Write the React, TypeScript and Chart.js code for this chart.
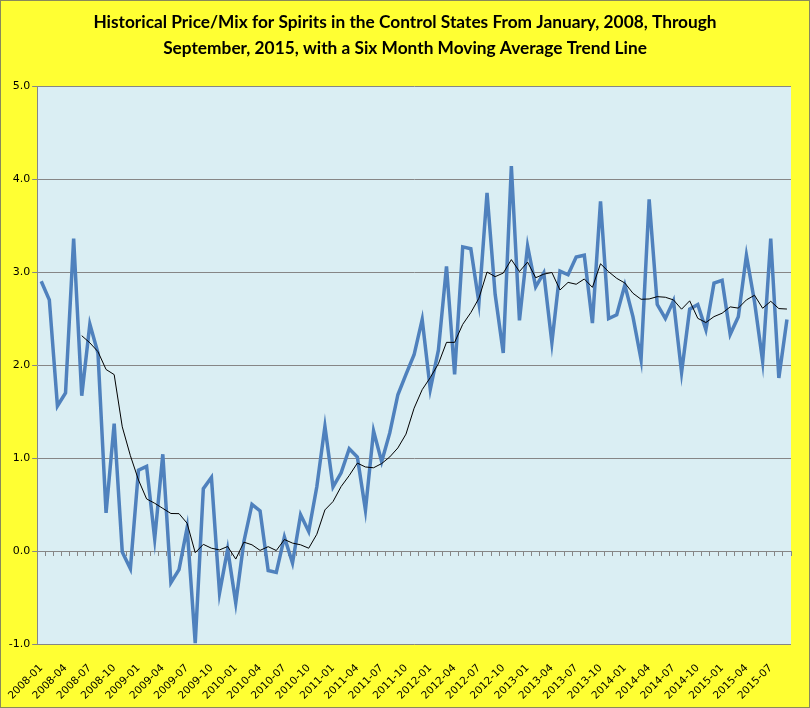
import React, { useEffect, useRef } from "react";
import { Chart, registerables } from "chart.js";

Chart.register(...registerables);

// ---- data ----
const titleLines: string[] = [
  "Historical Price/Mix for Spirits in the Control States From January, 2008, Through",
  "September, 2015, with a Six Month Moving Average Trend Line",
];

const years: number[] = [2008, 2009, 2010, 2011, 2012, 2013, 2014, 2015];
const months: string[] = ["01", "02", "03", "04", "05", "06", "07", "08", "09", "10", "11", "12"];
const categories: string[] = [];
years.forEach((y) =>
  months.forEach((m) => {
    if (!(y === 2015 && Number(m) > 9)) categories.push(`${y}-${m}`);
  })
);

// Price/mix, Jan 2008 .. Sep 2015
const priceMix: number[] = [
  2.90, 2.70, 1.56, 1.70, 3.36, 1.67, 2.44, 2.13, 0.41, 1.37, -0.01, -0.19,
  0.87, 0.91, 0.13, 1.04, -0.34, -0.20, 0.25, -0.99, 0.67, 0.79, -0.45, 0.02,
  -0.56, 0.10, 0.50, 0.43, -0.21, -0.23, 0.15, -0.13, 0.39, 0.21, 0.69, 1.34,
  0.69, 0.84, 1.10, 1.01, 0.44, 1.29, 0.96, 1.27, 1.68, 1.90, 2.11, 2.49,
  1.74, 2.16, 3.06, 1.90, 3.27, 3.25, 2.67, 3.85, 2.76, 2.13, 4.14, 2.48,
  3.28, 2.84, 2.99, 2.24, 3.01, 2.97, 3.16, 3.18, 2.45, 3.76, 2.50, 2.54,
  2.86, 2.52, 2.06, 3.78, 2.65, 2.50, 2.69, 1.92, 2.60, 2.65, 2.38, 2.88,
  2.91, 2.33, 2.52, 3.18, 2.68, 2.04, 3.36, 1.86, 2.49,
];

// Six month moving average trend line (Excel trendline definition)
const movingAverage: (number | null)[] = priceMix.map((_, i) =>
  i < 5 ? null : priceMix.slice(i - 5, i + 1).reduce((a, b) => a + b, 0) / 6
);

const yTicks = { min: -1, max: 5, step: 1 };

// ---- styles ----
const YELLOW = "#FFFF33";
const PLOT_BG = "#DAEEF3";
const GRID = "#868686";
const BLUE = "#4F81BD";

const bgPlugin = {
  id: "bgPlugin",
  beforeDraw(chart: any) {
    const { ctx, width, height, chartArea } = chart;
    ctx.save();
    ctx.fillStyle = YELLOW;
    ctx.fillRect(0, 0, width, height);
    ctx.fillStyle = PLOT_BG;
    ctx.fillRect(chartArea.left, chartArea.top, chartArea.right - chartArea.left, chartArea.bottom - chartArea.top);
    ctx.strokeStyle = "#8A8A5A";
    ctx.lineWidth = 1;
    ctx.strokeRect(0.5, 0.5, width - 1, height - 1);
    ctx.restore();
  },
  afterDraw(chart: any) {
    const { ctx, width } = chart;
    ctx.save();
    ctx.fillStyle = "#000";
    ctx.font = "bold 17.3px Lato";
    ctx.textAlign = "center";
    ctx.textBaseline = "middle";
    ctx.fillText(titleLines[0], width / 2, 22);
    ctx.fillText(titleLines[1], width / 2, 48);
    ctx.restore();
  },
};

export default function App() {
  const ref = useRef<HTMLCanvasElement | null>(null);
  useEffect(() => {
    if (!ref.current) return;
    const chart = new Chart(ref.current, {
      type: "line",
      data: {
        labels: categories,
        datasets: [
          {
            label: "Price/Mix",
            data: priceMix,
            borderColor: BLUE,
            borderWidth: 3.5,
            pointRadius: 0,
            tension: 0,
            order: 2,
          },
          {
            label: "6 per. Mov. Avg.",
            data: movingAverage,
            borderColor: "#000000",
            borderWidth: 1,
            pointRadius: 0,
            tension: 0,
            spanGaps: false,
            order: 1,
          },
        ],
      },
      options: {
        responsive: false,
        animation: false,
        devicePixelRatio: 1,
        layout: { padding: { top: 86, left: 0, right: 19, bottom: 0 } },
        plugins: {
          legend: { display: false },
          title: { display: false },
          tooltip: { enabled: false },
        },
        scales: {
          x: {
            type: "category",
            position: "bottom",
            offset: true,
            grid: { display: false },
            border: { display: false },
            ticks: {
              autoSkip: false,
              minRotation: 45,
              maxRotation: 45,
              padding: 10,
              color: "#000",
              font: { family: "DejaVu Sans", size: 10.5 },
              callback: (_v: any, i: number) => (i % 3 === 0 ? categories[i] : ""),
            },
            afterFit: (s: any) => {
              s.height = 64;
            },
          },
          x2: {
            type: "category",
            axis: "x",
            position: { y: 0 },
            offset: true,
            grid: { display: true, offset: true, drawOnChartArea: false, drawTicks: true, tickLength: 4, color: GRID },
            border: { display: true, color: GRID, width: 1 },
            ticks: { display: false },
          },
          y: {
            type: "linear",
            min: yTicks.min,
            max: yTicks.max,
            grid: { color: GRID, tickLength: 5, drawTicks: true },
            border: { display: true, color: GRID },
            ticks: {
              stepSize: yTicks.step,
              padding: 2,
              color: "#000",
              font: { family: "DejaVu Sans", size: 11 },
              callback: (v: any) => Number(v).toFixed(1),
            },
            afterFit: (s: any) => {
              s.width = 37;
            },
          },
        },
      } as any,
      plugins: [bgPlugin],
    });
    return () => chart.destroy();
  }, []);
  return (
    <div style={{ position: "fixed", left: 0, top: 0, width: 810, height: 708 }}>
      <canvas ref={ref} width={810} height={708} style={{ display: "block" }} />
    </div>
  );
}
